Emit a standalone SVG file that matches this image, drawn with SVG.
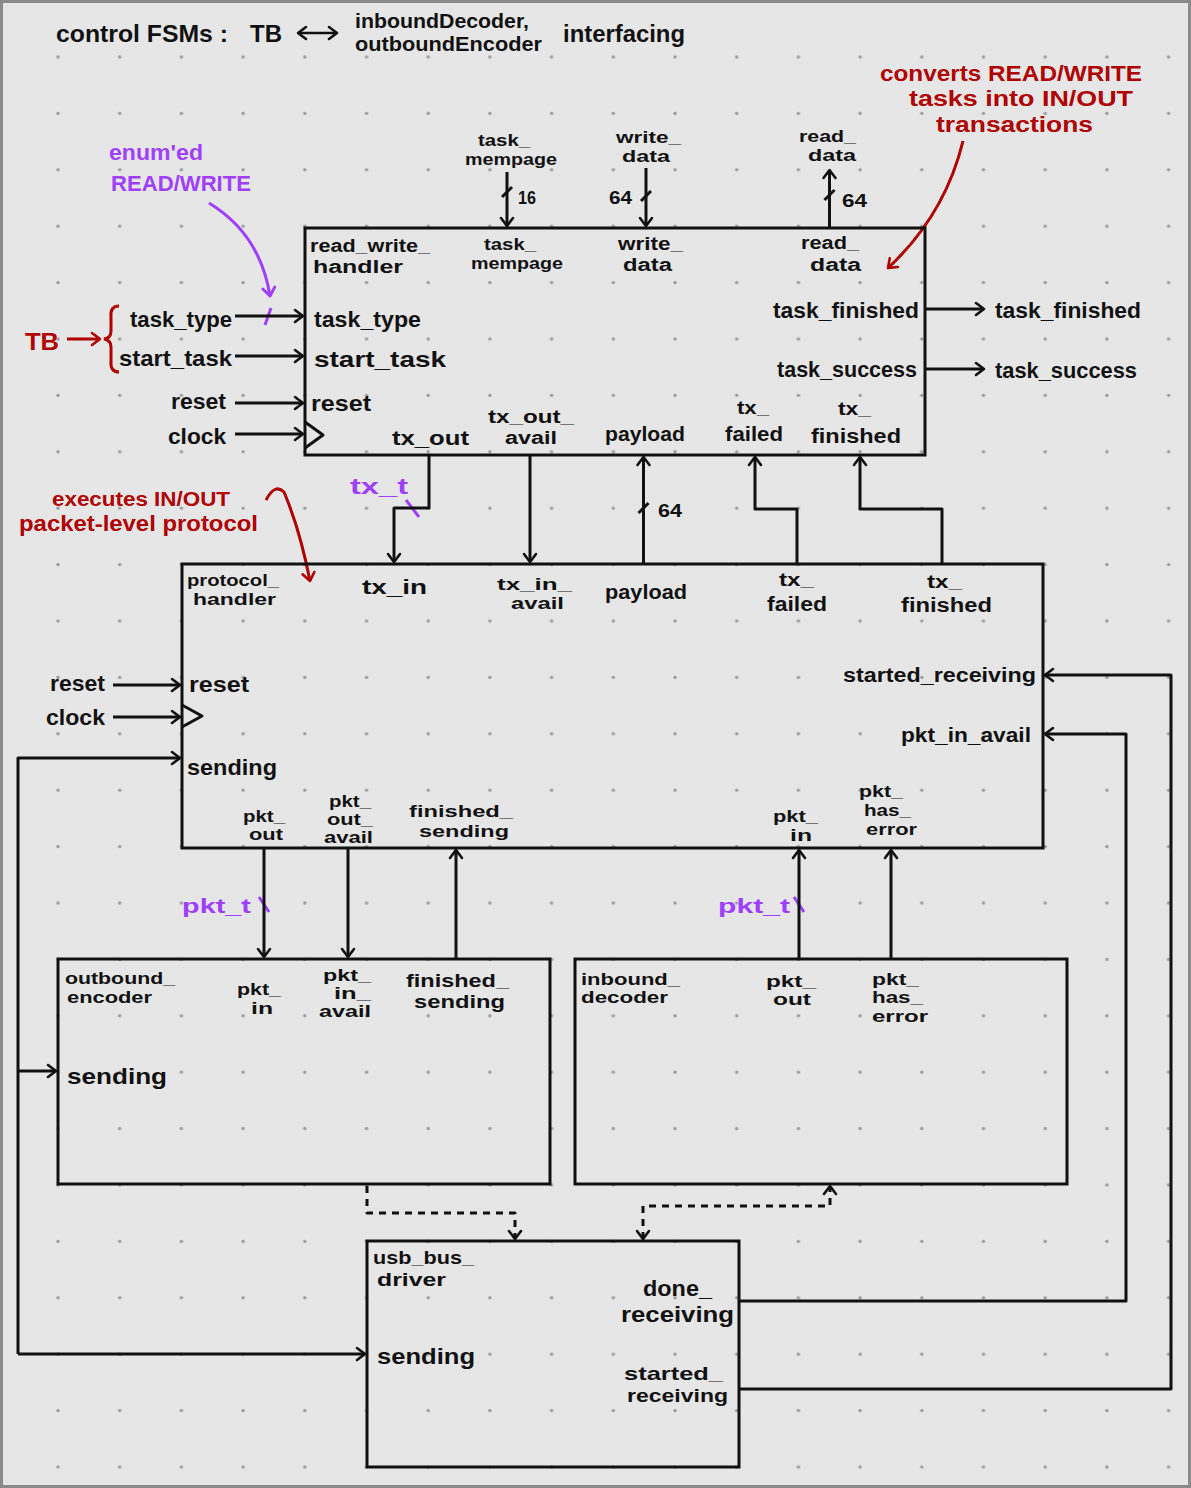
<svg xmlns="http://www.w3.org/2000/svg" width="1191" height="1488" viewBox="0 0 1191 1488">
<style>
.t{font-family:"Liberation Sans Narrow","Liberation Sans",Arial,sans-serif;font-weight:700;fill:#111}
.s16{font-size:16px}.s17{font-size:17px}.s18{font-size:18px}.s19{font-size:19px}.s20{font-size:20px}.s22{font-size:22px}.s24{font-size:24px}
.red{fill:#b00000}.pur{fill:#a040ff}
.box{fill:none;stroke:#111;stroke-width:3}
.w{fill:none;stroke:#111;stroke-width:3;stroke-linejoin:round}
.dash{stroke-dasharray:7 6}
</style>
<defs>
<pattern id="dots" x="27.15" y="28.8" width="61.7" height="56.4" patternUnits="userSpaceOnUse">
<circle cx="30.85" cy="28.2" r="1.7" fill="#9c9c9c"/>
</pattern>
<marker id="ah" markerUnits="userSpaceOnUse" markerWidth="14" markerHeight="14" refX="10" refY="6" orient="auto-start-reverse" overflow="visible">
<path d="M2,0 L10,6 L2,12" fill="none" stroke="#111" stroke-width="2.6" stroke-linejoin="round" stroke-linecap="round"/>
</marker>
<marker id="ahr" markerUnits="userSpaceOnUse" markerWidth="14" markerHeight="14" refX="10" refY="6" orient="auto" overflow="visible">
<path d="M2,0 L10,6 L2,12" fill="none" stroke="#b00000" stroke-width="2.6" stroke-linejoin="round" stroke-linecap="round"/>
</marker>
<marker id="ahp" markerUnits="userSpaceOnUse" markerWidth="14" markerHeight="14" refX="10" refY="6" orient="auto" overflow="visible">
<path d="M2,0 L10,6 L2,12" fill="none" stroke="#a040ff" stroke-width="3" stroke-linejoin="round" stroke-linecap="round"/>
</marker>
</defs>
<rect x="0" y="0" width="1191" height="1488" fill="#e6e6e6"/>
<rect x="0" y="0" width="1191" height="1488" fill="url(#dots)"/>
<rect x="1.5" y="1.5" width="1188" height="1485" fill="none" stroke="#8a8a8a" stroke-width="3"/>

<!-- title -->
<g id="title">
<text class="t s24" x="56" y="42" textLength="172" lengthAdjust="spacingAndGlyphs">control FSMs :</text>
<text class="t s24" x="250" y="42" textLength="32" lengthAdjust="spacingAndGlyphs">TB</text>
<line x1="298" y1="33" x2="337" y2="33" stroke="#111" stroke-width="2.6" marker-start="url(#ah)" marker-end="url(#ah)"/>
<text class="t s20" x="355" y="28" textLength="174" lengthAdjust="spacingAndGlyphs">inboundDecoder,</text>
<text class="t s20" x="355" y="51" textLength="187" lengthAdjust="spacingAndGlyphs">outboundEncoder</text>
<text class="t s24" x="563" y="42" textLength="122" lengthAdjust="spacingAndGlyphs">interfacing</text>
</g>

<!-- annotations -->
<g id="annotations">
<text class="t s22 pur" x="109" y="160" textLength="94" lengthAdjust="spacingAndGlyphs">enum'ed</text>
<text class="t s22 pur" x="111" y="191" textLength="140" lengthAdjust="spacingAndGlyphs">READ/WRITE</text>
<path d="M209,203 C245,225 264,258 270,296" fill="none" stroke="#a040ff" stroke-width="3" marker-end="url(#ahp)"/>
<line x1="265" y1="325" x2="271" y2="308" stroke="#a040ff" stroke-width="3"/>
<text class="t s24 red" x="25" y="350" textLength="34" lengthAdjust="spacingAndGlyphs">TB</text>
<line x1="67" y1="339" x2="100" y2="339" stroke="#b00000" stroke-width="3" marker-end="url(#ahr)"/>
<path d="M119,306 Q110,306 111,317 L111,331 Q111,338 104,339 Q111,340 111,347 L111,361 Q110,372 119,372" fill="none" stroke="#b00000" stroke-width="3"/>
<text class="t s22 red" x="880" y="81" textLength="262" lengthAdjust="spacingAndGlyphs">converts READ/WRITE</text>
<text class="t s22 red" x="909" y="106" textLength="224" lengthAdjust="spacingAndGlyphs">tasks into IN/OUT</text>
<text class="t s22 red" x="936" y="132" textLength="157" lengthAdjust="spacingAndGlyphs">transactions</text>
<path d="M963,141 Q945,215 888,268" fill="none" stroke="#b00000" stroke-width="3" marker-end="url(#ahr)"/>
<text class="t s20 red" x="52" y="506" textLength="178" lengthAdjust="spacingAndGlyphs">executes IN/OUT</text>
<text class="t s22 red" x="19" y="531" textLength="239" lengthAdjust="spacingAndGlyphs">packet-level protocol</text>
<path d="M266,500 Q275,483 284,492 Q300,530 310,581" fill="none" stroke="#b00000" stroke-width="3" marker-end="url(#ahr)"/>
<text class="t s22 pur" x="350" y="494" textLength="58" lengthAdjust="spacingAndGlyphs">tx_t</text>
<line x1="406" y1="500" x2="419" y2="517" stroke="#a040ff" stroke-width="3"/>
<text class="t s20 pur" x="182" y="913" textLength="69" lengthAdjust="spacingAndGlyphs">pkt_t</text>
<line x1="259" y1="897" x2="269" y2="912" stroke="#a040ff" stroke-width="3"/>
<text class="t s20 pur" x="718" y="913" textLength="72" lengthAdjust="spacingAndGlyphs">pkt_t</text>
<line x1="794" y1="897" x2="804" y2="912" stroke="#a040ff" stroke-width="3"/>
</g>

<!-- external labels -->
<g id="external_ports">
<text class="t s16" x="478" y="146" textLength="52" lengthAdjust="spacingAndGlyphs">task_</text>
<text class="t s16" x="465" y="165" textLength="92" lengthAdjust="spacingAndGlyphs">mempage</text>
<text class="t s18" x="518" y="204" textLength="18" lengthAdjust="spacingAndGlyphs">16</text>
<text class="t s16" x="616" y="143" textLength="65" lengthAdjust="spacingAndGlyphs">write_</text>
<text class="t s16" x="622" y="162" textLength="48" lengthAdjust="spacingAndGlyphs">data</text>
<text class="t s16" x="799" y="142" textLength="57" lengthAdjust="spacingAndGlyphs">read_</text>
<text class="t s16" x="808" y="161" textLength="48" lengthAdjust="spacingAndGlyphs">data</text>
<text class="t s18" x="609" y="204" textLength="23" lengthAdjust="spacingAndGlyphs">64</text>
<text class="t s18" x="842" y="207" textLength="25" lengthAdjust="spacingAndGlyphs">64</text>
<text class="t s22" x="130" y="327" textLength="102" lengthAdjust="spacingAndGlyphs">task_type</text>
<text class="t s22" x="119" y="366" textLength="113" lengthAdjust="spacingAndGlyphs">start_task</text>
<text class="t s22" x="171" y="409" textLength="55" lengthAdjust="spacingAndGlyphs">reset</text>
<text class="t s22" x="168" y="444" textLength="58" lengthAdjust="spacingAndGlyphs">clock</text>
<text class="t s22" x="995" y="318" textLength="146" lengthAdjust="spacingAndGlyphs">task_finished</text>
<text class="t s22" x="995" y="378" textLength="142" lengthAdjust="spacingAndGlyphs">task_success</text>
<text class="t s18" x="658" y="517" textLength="24" lengthAdjust="spacingAndGlyphs">64</text>
<text class="t s22" x="50" y="691" textLength="55" lengthAdjust="spacingAndGlyphs">reset</text>
<text class="t s22" x="46" y="725" textLength="59" lengthAdjust="spacingAndGlyphs">clock</text>
</g>

<!-- nodes -->
<g id="read_write_handler">
<rect class="box" x="305" y="228" width="620" height="227"/>
<polyline class="w" points="305,422 323,435 305,448"/>
<text class="t s18" x="310" y="252" textLength="120" lengthAdjust="spacingAndGlyphs">read_write_</text>
<text class="t s18" x="313" y="273" textLength="90" lengthAdjust="spacingAndGlyphs">handler</text>
<text class="t s16" x="484" y="250" textLength="52" lengthAdjust="spacingAndGlyphs">task_</text>
<text class="t s16" x="471" y="269" textLength="92" lengthAdjust="spacingAndGlyphs">mempage</text>
<text class="t s18" x="618" y="250" textLength="65" lengthAdjust="spacingAndGlyphs">write_</text>
<text class="t s18" x="623" y="271" textLength="49" lengthAdjust="spacingAndGlyphs">data</text>
<text class="t s18" x="801" y="249" textLength="58" lengthAdjust="spacingAndGlyphs">read_</text>
<text class="t s18" x="810" y="271" textLength="51" lengthAdjust="spacingAndGlyphs">data</text>
<text class="t s22" x="314" y="327" textLength="107" lengthAdjust="spacingAndGlyphs">task_type</text>
<text class="t s22" x="314" y="367" textLength="132" lengthAdjust="spacingAndGlyphs">start_task</text>
<text class="t s22" x="311" y="411" textLength="60" lengthAdjust="spacingAndGlyphs">reset</text>
<text class="t s22" x="773" y="318" textLength="146" lengthAdjust="spacingAndGlyphs">task_finished</text>
<text class="t s22" x="777" y="377" textLength="140" lengthAdjust="spacingAndGlyphs">task_success</text>
<text class="t s20" x="392" y="445" textLength="77" lengthAdjust="spacingAndGlyphs">tx_out</text>
<text class="t s18" x="488" y="423" textLength="86" lengthAdjust="spacingAndGlyphs">tx_out_</text>
<text class="t s18" x="505" y="444" textLength="52" lengthAdjust="spacingAndGlyphs">avail</text>
<text class="t s20" x="605" y="441" textLength="80" lengthAdjust="spacingAndGlyphs">payload</text>
<text class="t s18" x="737" y="414" textLength="32" lengthAdjust="spacingAndGlyphs">tx_</text>
<text class="t s20" x="725" y="441" textLength="58" lengthAdjust="spacingAndGlyphs">failed</text>
<text class="t s18" x="838" y="415" textLength="33" lengthAdjust="spacingAndGlyphs">tx_</text>
<text class="t s20" x="811" y="443" textLength="90" lengthAdjust="spacingAndGlyphs">finished</text>
</g>

<g id="protocol_handler">
<rect class="box" x="182" y="564" width="861" height="284"/>
<polyline class="w" points="182,705 202,716 182,727"/>
<text class="t s16" x="187" y="586" textLength="92" lengthAdjust="spacingAndGlyphs">protocol_</text>
<text class="t s16" x="193" y="605" textLength="83" lengthAdjust="spacingAndGlyphs">handler</text>
<text class="t s20" x="362" y="594" textLength="65" lengthAdjust="spacingAndGlyphs">tx_in</text>
<text class="t s16" x="497" y="590" textLength="75" lengthAdjust="spacingAndGlyphs">tx_in_</text>
<text class="t s16" x="511" y="609" textLength="53" lengthAdjust="spacingAndGlyphs">avail</text>
<text class="t s20" x="605" y="599" textLength="82" lengthAdjust="spacingAndGlyphs">payload</text>
<text class="t s18" x="779" y="586" textLength="35" lengthAdjust="spacingAndGlyphs">tx_</text>
<text class="t s20" x="767" y="611" textLength="60" lengthAdjust="spacingAndGlyphs">failed</text>
<text class="t s18" x="927" y="588" textLength="35" lengthAdjust="spacingAndGlyphs">tx_</text>
<text class="t s20" x="901" y="612" textLength="91" lengthAdjust="spacingAndGlyphs">finished</text>
<text class="t s22" x="189" y="692" textLength="60" lengthAdjust="spacingAndGlyphs">reset</text>
<text class="t s22" x="187" y="775" textLength="90" lengthAdjust="spacingAndGlyphs">sending</text>
<text class="t s20" x="843" y="682" textLength="193" lengthAdjust="spacingAndGlyphs">started_receiving</text>
<text class="t s20" x="901" y="742" textLength="130" lengthAdjust="spacingAndGlyphs">pkt_in_avail</text>
<text class="t s16" x="243" y="822" textLength="42" lengthAdjust="spacingAndGlyphs">pkt_</text>
<text class="t s16" x="249" y="840" textLength="34" lengthAdjust="spacingAndGlyphs">out</text>
<text class="t s16" x="329" y="807" textLength="42" lengthAdjust="spacingAndGlyphs">pkt_</text>
<text class="t s16" x="327" y="825" textLength="46" lengthAdjust="spacingAndGlyphs">out_</text>
<text class="t s16" x="324" y="843" textLength="49" lengthAdjust="spacingAndGlyphs">avail</text>
<text class="t s17" x="409" y="817" textLength="104" lengthAdjust="spacingAndGlyphs">finished_</text>
<text class="t s17" x="419" y="837" textLength="90" lengthAdjust="spacingAndGlyphs">sending</text>
<text class="t s16" x="773" y="822" textLength="45" lengthAdjust="spacingAndGlyphs">pkt_</text>
<text class="t s16" x="790" y="841" textLength="22" lengthAdjust="spacingAndGlyphs">in</text>
<text class="t s16" x="859" y="797" textLength="44" lengthAdjust="spacingAndGlyphs">pkt_</text>
<text class="t s16" x="864" y="816" textLength="47" lengthAdjust="spacingAndGlyphs">has_</text>
<text class="t s16" x="866" y="835" textLength="51" lengthAdjust="spacingAndGlyphs">error</text>
</g>

<g id="outbound_encoder">
<rect class="box" x="58" y="959" width="492" height="225"/>
<text class="t s16" x="65" y="984" textLength="110" lengthAdjust="spacingAndGlyphs">outbound_</text>
<text class="t s16" x="67" y="1003" textLength="85" lengthAdjust="spacingAndGlyphs">encoder</text>
<text class="t s16" x="237" y="995" textLength="44" lengthAdjust="spacingAndGlyphs">pkt_</text>
<text class="t s16" x="251" y="1014" textLength="22" lengthAdjust="spacingAndGlyphs">in</text>
<text class="t s16" x="323" y="981" textLength="48" lengthAdjust="spacingAndGlyphs">pkt_</text>
<text class="t s16" x="334" y="999" textLength="37" lengthAdjust="spacingAndGlyphs">in_</text>
<text class="t s16" x="319" y="1017" textLength="52" lengthAdjust="spacingAndGlyphs">avail</text>
<text class="t s18" x="406" y="987" textLength="103" lengthAdjust="spacingAndGlyphs">finished_</text>
<text class="t s18" x="414" y="1008" textLength="91" lengthAdjust="spacingAndGlyphs">sending</text>
<text class="t s22" x="67" y="1084" textLength="100" lengthAdjust="spacingAndGlyphs">sending</text>
</g>

<g id="inbound_decoder">
<rect class="box" x="575" y="959" width="492" height="225"/>
<text class="t s16" x="581" y="985" textLength="99" lengthAdjust="spacingAndGlyphs">inbound_</text>
<text class="t s16" x="581" y="1003" textLength="87" lengthAdjust="spacingAndGlyphs">decoder</text>
<text class="t s16" x="766" y="987" textLength="50" lengthAdjust="spacingAndGlyphs">pkt_</text>
<text class="t s16" x="773" y="1005" textLength="38" lengthAdjust="spacingAndGlyphs">out</text>
<text class="t s16" x="872" y="985" textLength="47" lengthAdjust="spacingAndGlyphs">pkt_</text>
<text class="t s16" x="872" y="1003" textLength="51" lengthAdjust="spacingAndGlyphs">has_</text>
<text class="t s16" x="872" y="1022" textLength="56" lengthAdjust="spacingAndGlyphs">error</text>
</g>

<g id="usb_bus_driver">
<rect class="box" x="367" y="1241" width="372" height="226"/>
<text class="t s18" x="373" y="1264" textLength="101" lengthAdjust="spacingAndGlyphs">usb_bus_</text>
<text class="t s18" x="377" y="1286" textLength="69" lengthAdjust="spacingAndGlyphs">driver</text>
<text class="t s22" x="643" y="1296" textLength="69" lengthAdjust="spacingAndGlyphs">done_</text>
<text class="t s22" x="621" y="1322" textLength="113" lengthAdjust="spacingAndGlyphs">receiving</text>
<text class="t s22" x="377" y="1364" textLength="98" lengthAdjust="spacingAndGlyphs">sending</text>
<text class="t s19" x="624" y="1380" textLength="99" lengthAdjust="spacingAndGlyphs">started_</text>
<text class="t s19" x="627" y="1402" textLength="101" lengthAdjust="spacingAndGlyphs">receiving</text>
</g>

<!-- connectors -->
<g id="connectors" fill="none" stroke="#111" stroke-width="3" stroke-linejoin="round">
<line x1="507" y1="172" x2="507" y2="226" marker-end="url(#ah)"/>
<line x1="502" y1="197" x2="512" y2="187"/>
<line x1="646" y1="168" x2="646" y2="226" marker-end="url(#ah)"/>
<line x1="641" y1="201" x2="651" y2="191"/>
<line x1="829.5" y1="228" x2="829.5" y2="170" marker-end="url(#ah)"/>
<line x1="824.5" y1="200" x2="834.5" y2="190"/>
<line x1="235" y1="316" x2="303" y2="316" marker-end="url(#ah)"/>
<line x1="235" y1="356" x2="303" y2="356" marker-end="url(#ah)"/>
<line x1="235" y1="403" x2="303" y2="403" marker-end="url(#ah)"/>
<line x1="235" y1="434" x2="303" y2="434" marker-end="url(#ah)"/>
<line x1="926" y1="309" x2="984" y2="309" marker-end="url(#ah)"/>
<line x1="926" y1="369" x2="984" y2="369" marker-end="url(#ah)"/>
<polyline points="429,455 429,508 394,508 394,562" marker-end="url(#ah)"/>
<line x1="530" y1="455" x2="530" y2="562" marker-end="url(#ah)"/>
<line x1="643.5" y1="564" x2="643.5" y2="457" marker-end="url(#ah)"/>
<line x1="638.5" y1="513" x2="648.5" y2="503"/>
<polyline points="797,564 797,509 755,509 755,457" marker-end="url(#ah)"/>
<polyline points="942,564 942,509 860,509 860,457" marker-end="url(#ah)"/>
<line x1="113" y1="685" x2="180" y2="685" marker-end="url(#ah)"/>
<line x1="113" y1="717" x2="180" y2="717" marker-end="url(#ah)"/>
<polyline points="18,1354 18,758 180,758" marker-end="url(#ah)"/>
<line x1="18" y1="1071" x2="56" y2="1071" marker-end="url(#ah)"/>
<line x1="18" y1="1354" x2="365" y2="1354" marker-end="url(#ah)"/>
<line x1="264" y1="848" x2="264" y2="957" marker-end="url(#ah)"/>
<line x1="348" y1="848" x2="348" y2="957" marker-end="url(#ah)"/>
<line x1="456" y1="959" x2="456" y2="850" marker-end="url(#ah)"/>
<line x1="799" y1="959" x2="799" y2="850" marker-end="url(#ah)"/>
<line x1="891" y1="959" x2="891" y2="850" marker-end="url(#ah)"/>
<polyline class="dash" points="367,1186 367,1213 515,1213 515,1239" marker-end="url(#ah)"/>
<polyline class="dash" points="643,1239 643,1206 830,1206 830,1186" marker-start="url(#ah)" marker-end="url(#ah)"/>
<polyline points="739,1301 1126,1301 1126,734 1045,734" marker-end="url(#ah)"/>
<polyline points="739,1389 1171,1389 1171,675 1045,675" marker-end="url(#ah)"/>
</g>
</svg>
